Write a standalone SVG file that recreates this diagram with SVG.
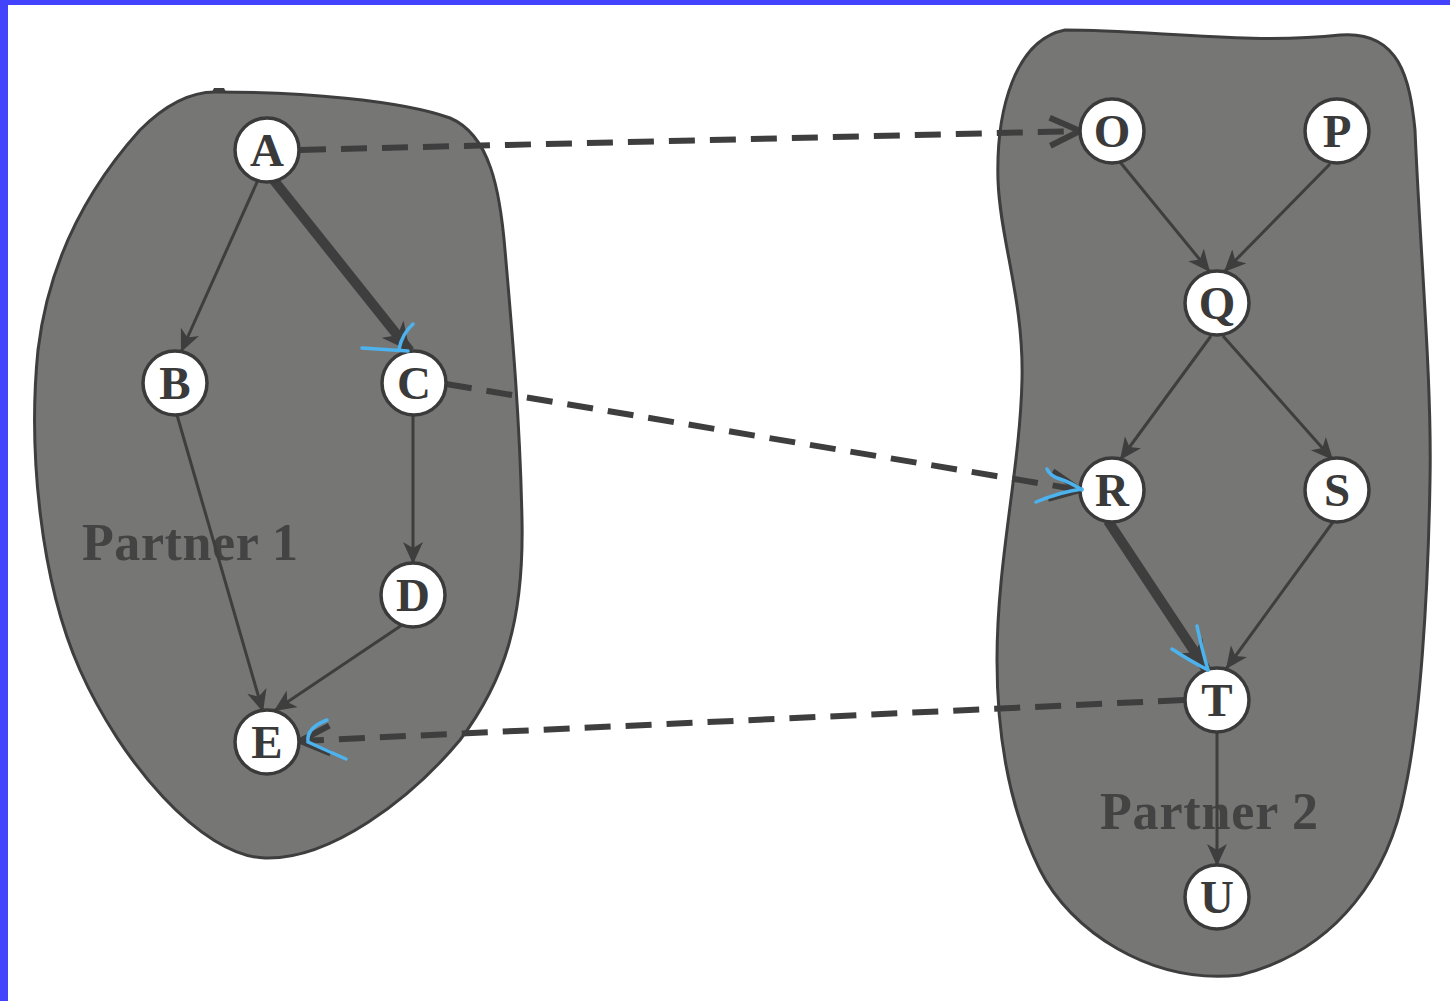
<svg xmlns="http://www.w3.org/2000/svg" width="1450" height="1001" viewBox="0 0 1450 1001">
<style>
.blob{fill:#767775;stroke:#3e3e3e;stroke-width:3}
.node circle{fill:#fff;stroke:#3a3a3a;stroke-width:3.5}
.node text{font-family:"Liberation Serif","Times New Roman",serif;font-size:47px;font-weight:bold;fill:#3a3a3a;text-anchor:middle}
.e{stroke:#3e3e3e;stroke-width:3;fill:none;marker-end:url(#ah)}
.thick{stroke:#3e3e3e;stroke-width:10;fill:none;marker-end:url(#ahb)}
.dash{stroke:#3e3e3e;stroke-width:6;fill:none;stroke-dasharray:26 15;marker-end:url(#chev)}
.lbl{font-family:"Liberation Serif","Times New Roman",serif;font-size:52px;font-weight:bold;fill:#434343}
.blue{stroke:#4db3ee;stroke-width:3.5;fill:none;stroke-linecap:round}
</style>
<defs>
<marker id="ah" markerUnits="userSpaceOnUse" markerWidth="26" markerHeight="22" refX="22" refY="10" orient="auto"><path d="M0,0 L22,10 L0,20 L6,10 Z" fill="#3e3e3e"/></marker>
<marker id="ahb" markerUnits="userSpaceOnUse" markerWidth="34" markerHeight="30" refX="28" refY="14" orient="auto"><path d="M0,0 L28,14 L0,28 L8,14 Z" fill="#3e3e3e"/></marker>
<marker id="chev" markerUnits="userSpaceOnUse" markerWidth="40" markerHeight="36" refX="34" refY="18" orient="auto"><path d="M4,4 L34,18 L4,32" fill="none" stroke="#3e3e3e" stroke-width="6"/></marker>
</defs>
<rect x="0" y="0" width="1450" height="1001" fill="#fff"/>
<rect x="0" y="0" width="1450" height="5" fill="#4343fd"/>
<rect x="0" y="0" width="8" height="1001" fill="#4343fd"/>
<g id="partner1">
<path class="blob" d="M215,92 C300,92 400,100 450,118 C490,135 500,190 505,250 C512,330 520,420 522,520 C524,620 505,680 460,740 C410,800 330,860 265,858 C200,856 120,760 80,670 C40,580 28,450 38,350 C50,250 95,180 140,130 C165,105 190,92 215,92 Z"/>
<path d="M212,92 L214,88 L224,88 L226,92 Z" fill="#3e3e3e"/>
<text class="lbl" x="82" y="560" textLength="216" lengthAdjust="spacing">Partner 1</text>
</g>
<g id="partner2">
<path class="blob" d="M1065,30 C1150,30 1250,45 1340,35 C1400,30 1410,80 1415,130 C1420,250 1432,380 1430,480 C1428,600 1420,720 1405,790 C1390,870 1340,950 1240,975 C1150,985 1070,930 1040,870 C1010,810 997,740 997,660 C997,560 1020,470 1022,380 C1024,300 1000,240 998,180 C996,110 1015,40 1065,30 Z"/>
<text class="lbl" x="1100" y="829" textLength="218" lengthAdjust="spacing">Partner 2</text>
</g>
<g id="connectors">
<line class="e" x1="258" y1="180" x2="181" y2="352"/>
<line class="thick" x1="272" y1="178" x2="410" y2="351"/>
<line class="e" x1="177" y1="415" x2="263" y2="712"/>
<line class="e" x1="413" y1="416" x2="413" y2="564"/>
<line class="e" x1="405" y1="623" x2="274" y2="711"/>
<line class="e" x1="1120" y1="162" x2="1210" y2="272"/>
<line class="e" x1="1330" y1="164" x2="1224" y2="272"/>
<line class="e" x1="1211" y1="336" x2="1120" y2="460"/>
<line class="e" x1="1223" y1="336" x2="1333" y2="460"/>
<line class="thick" x1="1108" y1="521" x2="1206" y2="669"/>
<line class="e" x1="1333" y1="522" x2="1226" y2="669"/>
<line class="e" x1="1217" y1="733" x2="1217" y2="866"/>
<line class="dash" x1="300" y1="150" x2="1080" y2="131"/>
<line class="dash" x1="446" y1="384" x2="1080" y2="490"/>
<line class="dash" x1="1184" y1="700" x2="300" y2="741"/>
</g>
<g id="A" class="node"><circle cx="267" cy="150" r="32"/><text x="267" y="166">A</text></g>
<g id="B" class="node"><circle cx="175" cy="383" r="32"/><text x="175" y="399">B</text></g>
<g id="C" class="node"><circle cx="414" cy="383" r="32"/><text x="414" y="399">C</text></g>
<g id="D" class="node"><circle cx="413" cy="595" r="32"/><text x="413" y="611">D</text></g>
<g id="E" class="node"><circle cx="267" cy="742" r="32"/><text x="267" y="758">E</text></g>
<g id="O" class="node"><circle cx="1112" cy="131" r="32"/><text x="1112" y="147">O</text></g>
<g id="P" class="node"><circle cx="1337" cy="131" r="32"/><text x="1337" y="147">P</text></g>
<g id="Q" class="node"><circle cx="1217" cy="303" r="32"/><text x="1217" y="319">Q</text></g>
<g id="R" class="node"><circle cx="1112" cy="490" r="32"/><text x="1112" y="506">R</text></g>
<g id="S" class="node"><circle cx="1337" cy="490" r="32"/><text x="1337" y="506">S</text></g>
<g id="T" class="node"><circle cx="1217" cy="700" r="32"/><text x="1217" y="716">T</text></g>
<g id="U" class="node"><circle cx="1217" cy="897" r="32"/><text x="1217" y="913">U</text></g>
<g id="annotations">
<path class="blue" d="M362,348 L408,351"/>
<path class="blue" d="M413,324 Q402,334 399,349"/>
<path class="blue" d="M1047,469 Q1050,476 1060,479 Q1072,483 1082,490"/>
<path class="blue" d="M1036,502 Q1060,492 1082,489"/>
<path class="blue" d="M1172,649 Q1192,662 1208,670"/>
<path class="blue" d="M1197,626 Q1202,650 1208,670"/>
<path class="blue" d="M327,720 Q306,728 308,742 Q330,752 346,759"/>
</g>
</svg>
